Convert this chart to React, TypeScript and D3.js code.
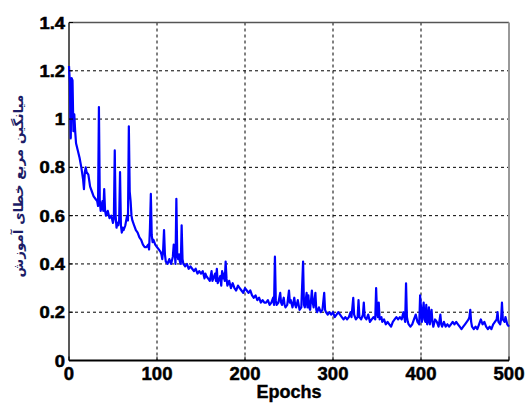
import React from "react";
import * as d3 from "d3";

const epochs: number[] = [
  0, 1, 2, 3, 4, 5, 6, 7, 8, 10, 12, 14, 16, 17, 18, 19, 20, 22, 24, 26, 28, 30, 32, 33, 34, 35, 36, 38, 39, 40,
  41, 42, 44, 46, 48, 50, 51, 52, 53, 54, 55, 56, 57, 58, 59, 60, 61, 62, 64, 66, 67, 68, 69, 70, 71, 72, 74, 76, 78, 80,
  82, 84, 86, 88, 90, 91, 92, 93, 94, 95, 96, 98, 100, 102, 104, 105, 106, 107, 108, 109, 110, 112, 114, 116, 118, 119, 120, 121, 122, 123,
  124, 125, 126, 127, 128, 129, 130, 132, 134, 136, 138, 140, 142, 144, 146, 148, 150, 152, 154, 155, 156, 158, 160, 162, 163, 164, 166, 167, 168, 169,
  170, 172, 173, 174, 175, 176, 177, 178, 179, 180, 182, 184, 186, 188, 190, 192, 194, 196, 198, 200, 202, 204, 206, 208, 210, 212, 214, 216, 218, 220,
  222, 224, 226, 228, 230, 232, 233, 234, 235, 236, 238, 240, 241, 242, 244, 245, 246, 248, 250, 251, 252, 254, 256, 257, 258, 260, 262, 264, 266, 267,
  268, 270, 271, 272, 273, 274, 276, 277, 278, 280, 281, 282, 284, 286, 288, 290, 291, 292, 294, 296, 298, 300, 302, 304, 306, 308, 310, 312, 314, 316,
  318, 320, 321, 323, 324, 326, 328, 329, 330, 332, 334, 335, 336, 338, 340, 342, 344, 346, 348, 349, 350, 351, 352, 353, 355, 356, 358, 360, 362, 364,
  366, 368, 370, 372, 374, 376, 378, 380, 382, 383, 384, 385, 386, 388, 390, 392, 394, 396, 398, 399, 400, 401, 403, 404, 405, 406, 407, 408, 409, 410,
  412, 413, 414, 416, 418, 420, 422, 423, 424, 426, 428, 430, 432, 434, 436, 438, 440, 442, 444, 446, 448, 450, 452, 454, 455, 456, 457, 458, 460, 462,
  464, 466, 468, 470, 472, 474, 476, 478, 480, 482, 484, 486, 487, 488, 490, 491, 492, 493, 495, 496, 498, 500,
];

const mse: number[] = [
  1.22, 1.15, 0.92, 1.17, 1.16, 0.95, 1.02, 0.95, 0.9, 0.87, 0.84, 0.8, 0.75, 0.71, 0.78, 0.8, 0.78, 0.77, 0.72, 0.7, 0.68, 0.67, 0.66, 0.64, 1.05, 0.66, 0.62, 0.66, 0.62, 0.71,
  0.62, 0.6, 0.62, 0.59, 0.6, 0.57, 0.59, 0.87, 0.6, 0.55, 0.57, 0.56, 0.58, 0.78, 0.56, 0.53, 0.55, 0.54, 0.56, 0.6, 0.58, 0.97, 0.7, 0.66, 0.6, 0.58, 0.56, 0.54, 0.53, 0.51,
  0.5, 0.48, 0.47, 0.47, 0.48, 0.46, 0.55, 0.69, 0.52, 0.49, 0.5, 0.48, 0.47, 0.46, 0.45, 0.44, 0.42, 0.46, 0.54, 0.44, 0.41, 0.4, 0.42, 0.4, 0.43, 0.48, 0.46, 0.4, 0.67, 0.44,
  0.42, 0.44, 0.41, 0.4, 0.56, 0.42, 0.4, 0.39, 0.4, 0.38, 0.39, 0.38, 0.37, 0.38, 0.36, 0.37, 0.36, 0.37, 0.34, 0.36, 0.35, 0.34, 0.33, 0.37, 0.33, 0.34, 0.36, 0.33, 0.38, 0.32,
  0.33, 0.35, 0.31, 0.37, 0.34, 0.36, 0.33, 0.41, 0.34, 0.31, 0.33, 0.3, 0.32, 0.3, 0.29, 0.31, 0.3, 0.29, 0.28, 0.3, 0.29, 0.28, 0.29, 0.27, 0.26, 0.27, 0.25, 0.26, 0.24, 0.25,
  0.24, 0.24, 0.25, 0.23, 0.24, 0.26, 0.23, 0.43, 0.25, 0.23, 0.24, 0.28, 0.24, 0.23, 0.26, 0.23, 0.22, 0.23, 0.29, 0.24, 0.25, 0.22, 0.26, 0.23, 0.22, 0.25, 0.21, 0.22, 0.41, 0.23,
  0.22, 0.28, 0.22, 0.27, 0.22, 0.21, 0.29, 0.24, 0.22, 0.28, 0.21, 0.2, 0.22, 0.2, 0.21, 0.28, 0.21, 0.2, 0.19, 0.2, 0.19, 0.2, 0.18, 0.19, 0.2, 0.19, 0.18, 0.17, 0.18, 0.17,
  0.18, 0.2, 0.18, 0.26, 0.19, 0.17, 0.18, 0.25, 0.18, 0.17, 0.19, 0.24, 0.18, 0.17, 0.19, 0.16, 0.17, 0.18, 0.17, 0.3, 0.2, 0.18, 0.24, 0.17, 0.18, 0.16, 0.17, 0.15, 0.16, 0.15,
  0.14, 0.16, 0.17, 0.18, 0.17, 0.18, 0.17, 0.2, 0.16, 0.32, 0.18, 0.16, 0.15, 0.14, 0.15, 0.17, 0.19, 0.16, 0.15, 0.27, 0.22, 0.16, 0.24, 0.17, 0.16, 0.23, 0.15, 0.17, 0.22, 0.15,
  0.21, 0.16, 0.14, 0.17, 0.16, 0.14, 0.19, 0.15, 0.14, 0.16, 0.14, 0.15, 0.14, 0.15, 0.16, 0.15, 0.16, 0.15, 0.14, 0.13, 0.14, 0.15, 0.16, 0.17, 0.18, 0.21, 0.16, 0.14, 0.13, 0.14,
  0.13, 0.15, 0.17, 0.15, 0.16, 0.14, 0.13, 0.14, 0.13, 0.15, 0.16, 0.17, 0.2, 0.16, 0.15, 0.17, 0.24, 0.17, 0.16, 0.18, 0.15, 0.14,
];

const xTicks: number[] = [0, 100, 200, 300, 400, 500];
const yTicks: number[] = [0, 0.2, 0.4, 0.6, 0.8, 1, 1.2, 1.4];
const xLabel = "Epochs";
const yLabel = "میانگین مربع خطای آموزش";

const W = 526;
const H = 403;
const L = 69;
const R = 509;
const T = 22.5;
const B = 360.5;

export default function App() {
  const x = d3.scaleLinear().domain([0, 500]).range([L, R]);
  const y = d3.scaleLinear().domain([0, 1.4]).range([B, T]);
  const pts: [number, number][] = epochs.map((e, i) => [e, mse[i]]);
  const line = d3
    .line<[number, number]>()
    .x((d) => x(d[0]))
    .y((d) => y(d[1]));
  const font = "'Liberation Sans', Arial, sans-serif";
  return (
    <svg
      width={W}
      height={H}
      style={{ position: "absolute", left: 0, top: 0, background: "#fff" }}
    >
      <rect x={0} y={0} width={W} height={H} fill="#fff" />
      {xTicks.slice(1, -1).map((t) => (
        <line
          key={"gx" + t}
          x1={x(t)}
          x2={x(t)}
          y1={T}
          y2={B}
          stroke="#000"
          strokeWidth={1}
          strokeDasharray="3,3"
        />
      ))}
      {yTicks.slice(1, -1).map((t) => (
        <line
          key={"gy" + t}
          x1={L}
          x2={R}
          y1={y(t)}
          y2={y(t)}
          stroke="#000"
          strokeWidth={1}
          strokeDasharray="3,3"
        />
      ))}
      <line x1={L} x2={R} y1={T} y2={T} stroke="#555" strokeWidth={1.5} />
      <line x1={R} x2={R} y1={T} y2={B} stroke="#999" strokeWidth={2} />
      <line x1={L} x2={L} y1={T} y2={B} stroke="#222" strokeWidth={1.5} />
      <path d={line(pts) || ""} fill="none" stroke="#0000ff" strokeWidth={2.2} strokeLinejoin="round" />
      <line x1={L} x2={R} y1={B} y2={B} stroke="#000" strokeWidth={2} />
      {xTicks.map((t) => (
        <line key={"tx" + t} x1={x(t)} x2={x(t)} y1={B} y2={B - 4} stroke="#000" strokeWidth={1} />
      ))}
      {yTicks.map((t) => (
        <line key={"ty" + t} x1={L} x2={L + 4} y1={y(t)} y2={y(t)} stroke="#000" strokeWidth={1} />
      ))}
      {yTicks.map((t) => (
        <text
          key={"ly" + t}
          transform={`translate(65,${y(t) + 6}) scale(1.15,1)`}
          textAnchor="end"
          fontFamily={font}
          fontWeight="bold"
          fontSize={16}
          fill="#000"
          stroke="#000"
          strokeWidth={0.5}
        >
          {d3.format("~g")(t)}
        </text>
      ))}
      {xTicks.map((t) => (
        <text
          key={"lx" + t}
          x={x(t)}
          y={379.5}
          textAnchor="middle"
          fontFamily={font}
          fontWeight="bold"
          fontSize={18.5}
          fill="#000"
          stroke="#000"
          strokeWidth={0.5}
        >
          {t}
        </text>
      ))}
      <text
        x={(L + R) / 2}
        y={398}
        textAnchor="middle"
        fontFamily={font}
        fontWeight="bold"
        fontSize={18}
        fill="#000"
        stroke="#000"
        strokeWidth={0.4}
      >
        {xLabel}
      </text>
      <text
        transform={`translate(23,186) rotate(-90)`}
        textAnchor="middle"
        fontFamily="'DejaVu Sans', sans-serif"
        fontWeight="bold"
        fontSize={13.5}
        fill="#1c1c66"
        direction="rtl"
      >
        {yLabel}
      </text>
    </svg>
  );
}
